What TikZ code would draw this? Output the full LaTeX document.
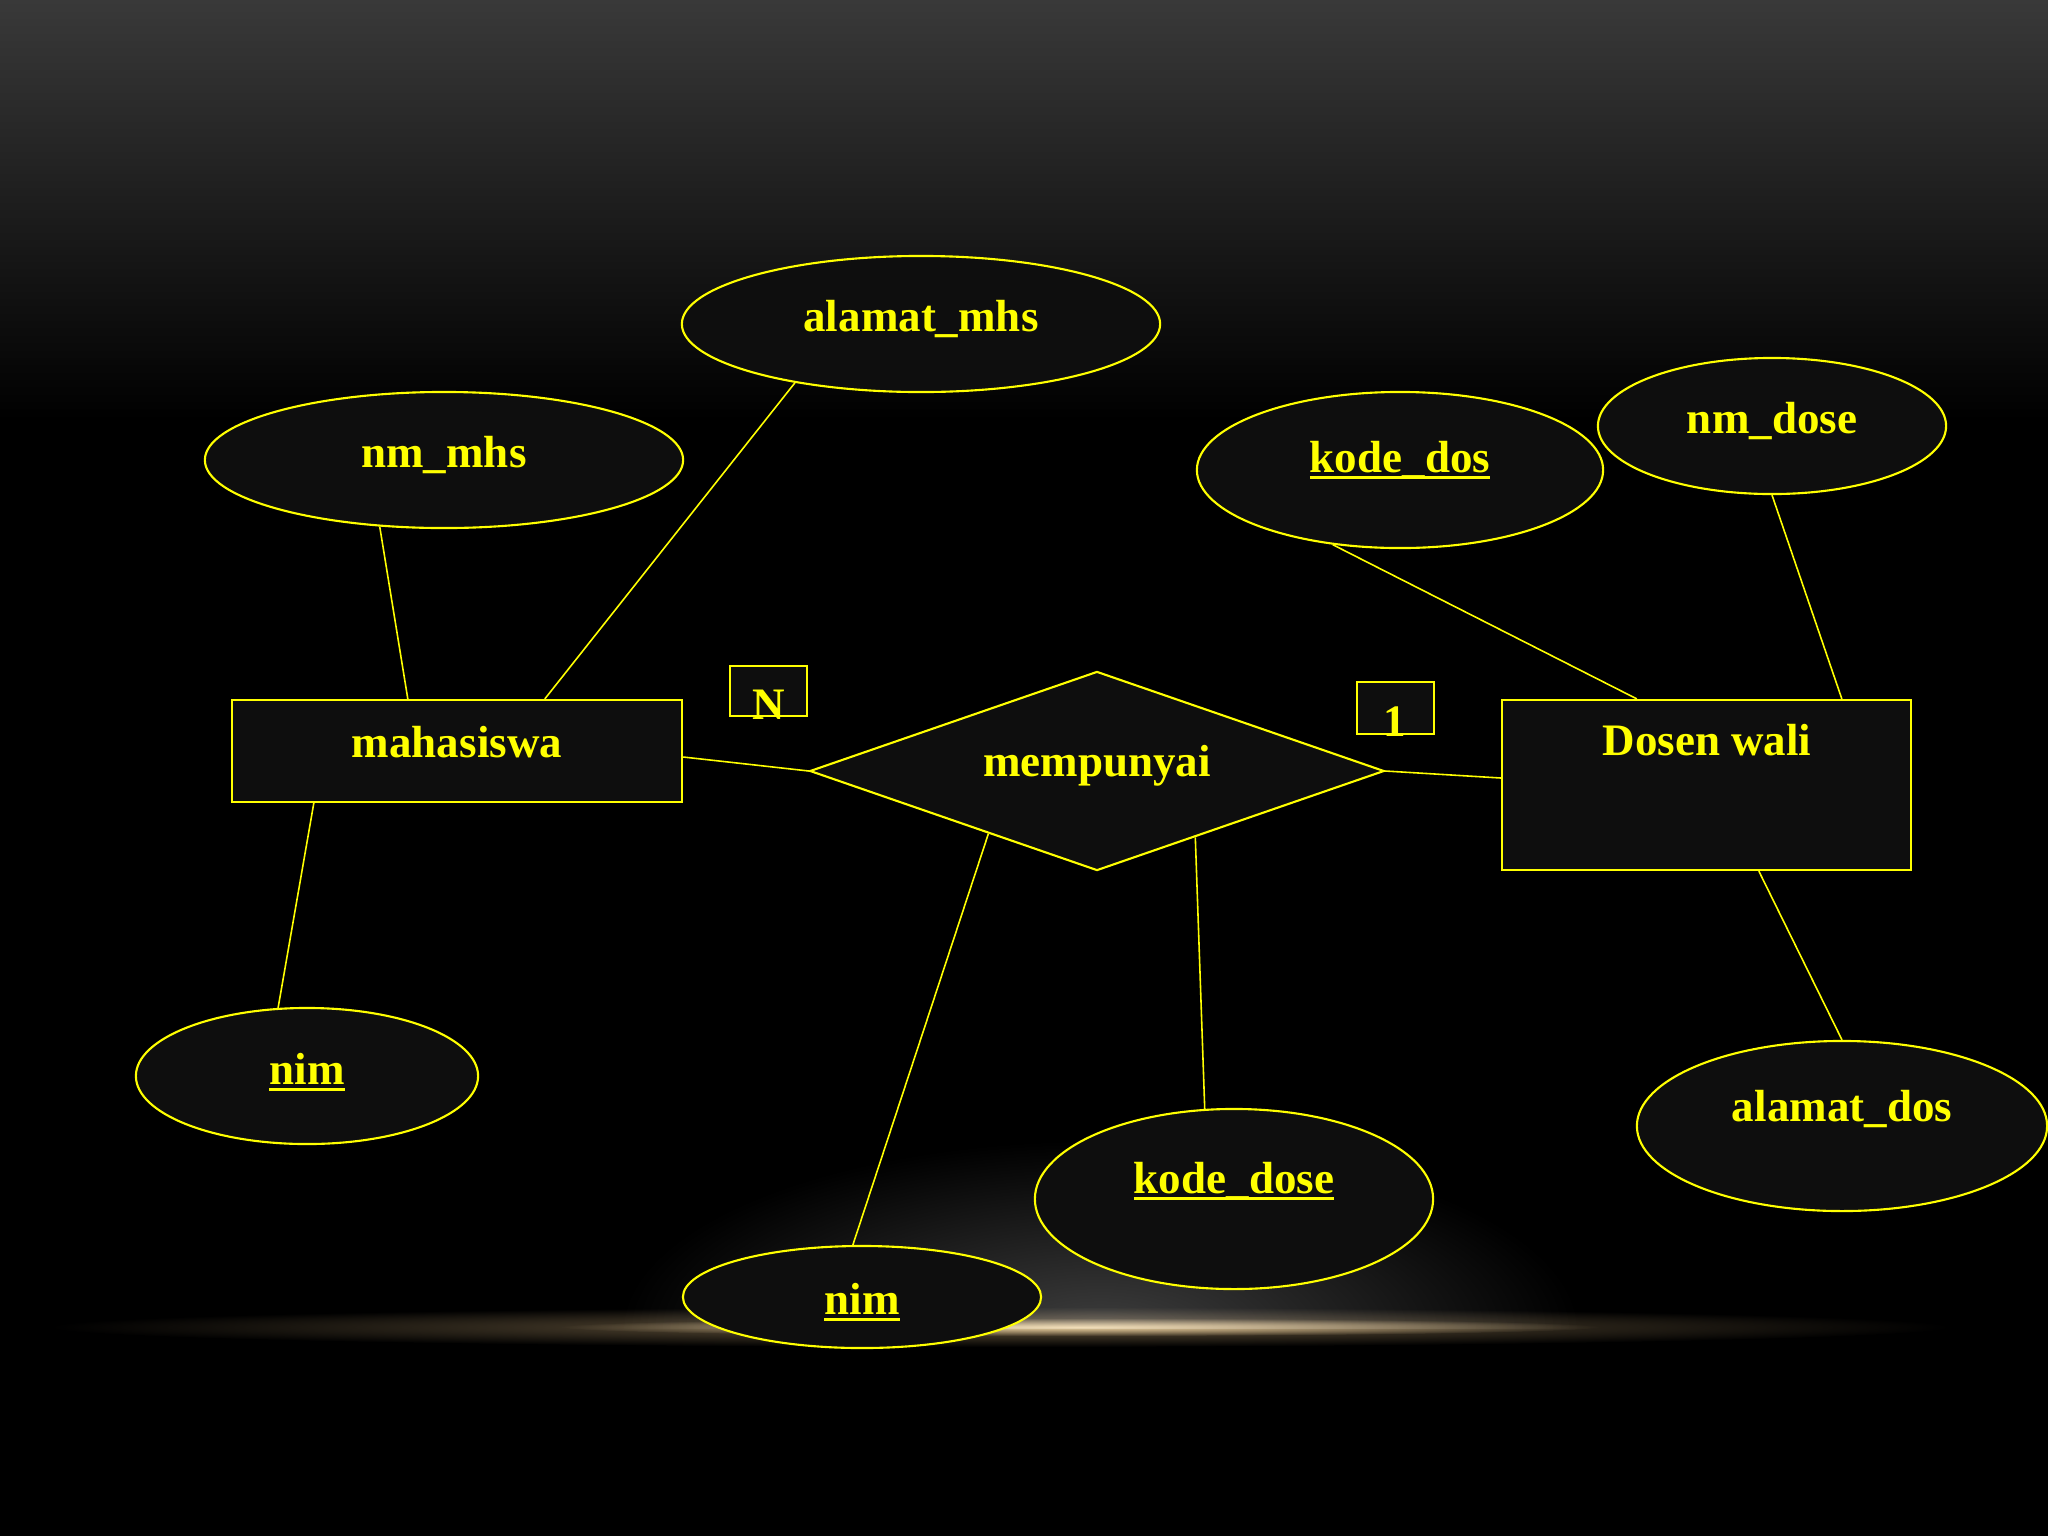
\documentclass[tikz,border=0pt]{standalone}
\usepackage{fontspec}
\setmainfont{Liberation Serif}
\usetikzlibrary{shapes.geometric,calc}
\definecolor{kuning}{RGB}{255,255,0}
\definecolor{isi}{RGB}{14,14,14}
\definecolor{atas}{RGB}{57,57,57}
\definecolor{kilau}{RGB}{225,190,135}
\definecolor{redup}{RGB}{62,62,62}
\newcommand{\kunci}[1]{\setbox0\hbox{#1}\rlap{\rule[-0.14em]{\wd0}{0.06em}}\box0}
\begin{document}
\begin{tikzpicture}[x=0.01cm,y=-0.01cm,
  garis/.style={kuning,line width=0.45pt},
  bentuk/.style={draw=kuning,fill=isi,line width=0.6pt,inner sep=0pt},
  tulisan/.style={kuning,font=\fontsize{12.8}{15}\selectfont\bfseries,inner sep=0pt}]
\useasboundingbox (0,0) rectangle (2048,1536);
\fill[black] (0,0) rectangle (2048,1536);
\shade[top color=atas,bottom color=black] (0,0) rectangle (2048,420);
\begin{scope}[blend mode=screen]
\begin{scope}
\clip (0,0) rectangle (2048,1328);
\shade[inner color=redup,outer color=black] (1100,1330) ellipse (480 and 190);
\end{scope}
\shade[inner color=kilau!45!black,outer color=black] (1000,1327) ellipse (950 and 20);
\shade[inner color=kilau,outer color=black] (1080,1327) ellipse (520 and 9);
\end{scope}

\node[bentuk,rectangle,minimum width=4.5cm,minimum height=1.02cm] (mhs) at (457,751) {};
\node[bentuk,rectangle,minimum width=4.09cm,minimum height=1.7cm] (dosen) at (1706.5,785) {};
\node[bentuk,diamond,aspect=2.88,minimum width=5.74cm,minimum height=1.99cm] (punya) at (1097,771) {};
\node[bentuk,rectangle,minimum width=0.77cm,minimum height=0.5cm] (kardN) at (768.5,691) {};
\node[bentuk,rectangle,minimum width=0.77cm,minimum height=0.52cm] (kard1) at (1395.5,708) {};

\foreach \n/\x/\y/\w/\h/\ty/\teks in {
  almhs/921/324/4.78/1.36/319/alamat\_mhs,
  nmmhs/444/460/4.78/1.36/455/nm\_mhs,
  kddos/1400/470/4.06/1.56/460/\kunci{kode\_dos},
  nmdos/1772/426/3.48/1.36/421/nm\_dose,
  nimA/307/1076/3.42/1.36/1072/\kunci{nim},
  nimB/862/1297/3.58/1.02/1302/\kunci{nim},
  kddose/1234/1199/3.98/1.80/1181/\kunci{kode\_dose},
  aldos/1842/1126/4.10/1.70/1109/alamat\_dos}
{
  \node[bentuk,ellipse,minimum width=\w cm,minimum height=\h cm] (\n) at (\x,\y) {};
  \node[tulisan] (\n-t) at (\x,\ty) {\teks};
}

\node[tulisan] (mhs-t) at (457,742) {mahasiswa};
\node[tulisan] (dosen-t) at (1707,740) {Dosen wali};
\node[tulisan] (punya-t) at (1097,766) {mempunyai};
\node[tulisan] (kardN-t) at (769,705) {N};
\node[tulisan] (kard1-t) at (1395,722) {1};

\draw[garis] (nmmhs.-134) -- ($(mhs.north west)+(177,0)$);
\draw[garis] (almhs.-155) -- ($(mhs.north west)+(314,0)$);
\draw[garis] ($(mhs.south west)+(83,0)$) -- (nimA.113);
\draw[garis] ($(mhs.east)+(0,6)$) -- (punya.west);
\draw[garis] (punya.-150) -- (nimB.100);
\draw[garis] (punya.-34) -- (kddose.108);
\draw[garis] (punya.east) -- ($(dosen.west)+(0,-7)$);
\draw[garis] (kddos.-132) -- ($(dosen.north west)+(136,0)$);
\draw[garis] (nmdos.south) -- ($(dosen.north west)+(341,0)$);
\draw[garis] ($(dosen.south west)+(258,0)$) -- (aldos.north);
\end{tikzpicture}
\end{document}
